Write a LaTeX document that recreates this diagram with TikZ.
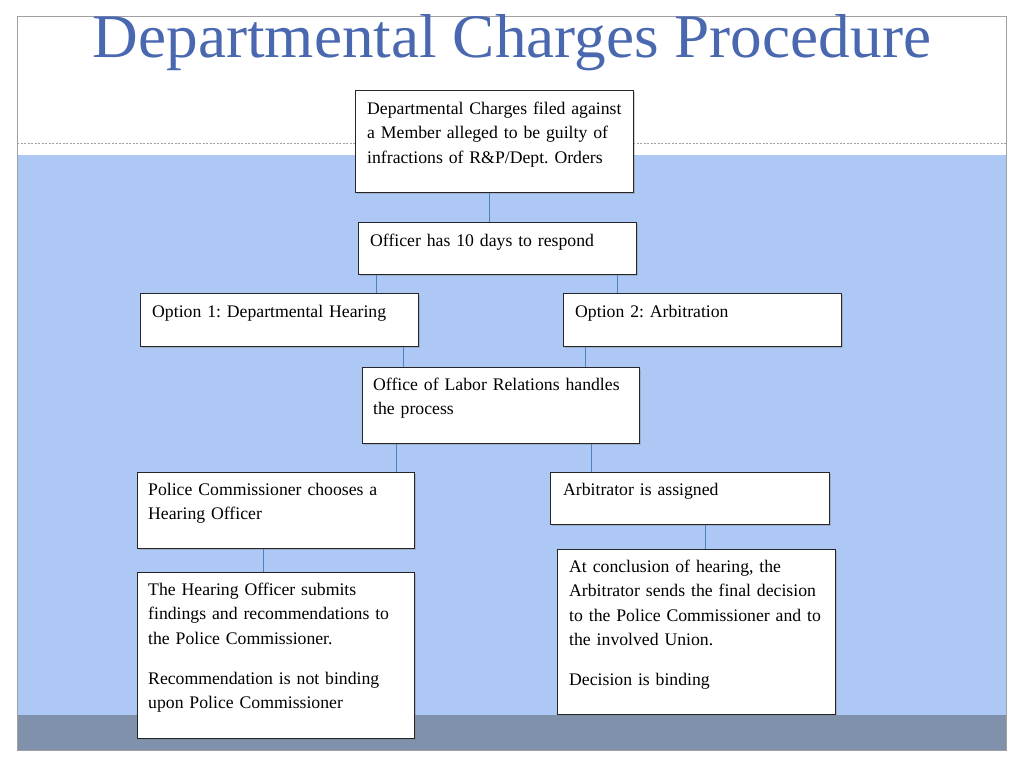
\documentclass[tikz,border=0pt]{standalone}
\usepackage{fontspec}
\setmainfont{Liberation Serif}
\usetikzlibrary{calc,shadows}
\definecolor{bgblue}{HTML}{ADC8F4}
\definecolor{band}{HTML}{7F91AB}
\definecolor{titleblue}{HTML}{4A68B0}
\definecolor{conncol}{HTML}{4F81BD}
\definecolor{framegray}{HTML}{A0A0A0}
\frenchspacing
\tikzset{
  box/.style={draw=black!85, line width=0.9pt, fill=white, inner sep=0pt,
    anchor=north west, drop shadow={shadow xshift=1.2pt, shadow yshift=-1.2pt, opacity=0.35}},
  txt/.style={anchor=base west, inner sep=0pt, align=left, text width=#1,
    font=\fontsize{17.7}{24.5}\selectfont},
  txt/.default=262pt,
  conn/.style={draw=conncol, line width=0.9pt},
}
\begin{document}
\begin{tikzpicture}[x=1pt,y=-1pt]
\useasboundingbox (0,0) rectangle (1024,768);
% background
\fill[white] (0,0) rectangle (1024,768);
\fill[bgblue] (17,155) rectangle (1006,715);
\fill[band] (17,715) rectangle (1006,750);
\draw[framegray, line width=1pt] (17,17) rectangle (1006,750);
\draw[framegray, line width=1pt, dash pattern=on 2pt off 1.5pt] (17,143) -- (1006,143);
% title
\node[anchor=base, inner sep=0pt, text=titleblue, xscale=1.02, font=\fontsize{62}{70}\selectfont] (title) at (512,58) {Departmental Charges Procedure};
% boxes
\node[box, minimum width=278pt, minimum height=102pt] (b1) at (355,90) {};
\node[box, minimum width=278pt, minimum height=52pt] (b2) at (358,222) {};
\node[box, minimum width=278pt, minimum height=53pt] (o1) at (140,293) {};
\node[box, minimum width=278pt, minimum height=53pt] (o2) at (563,293) {};
\node[box, minimum width=277pt, minimum height=76pt] (b5) at (362,367) {};
\node[box, minimum width=277pt, minimum height=76pt] (b6) at (137,472) {};
\node[box, minimum width=279pt, minimum height=52pt] (b7) at (550,472) {};
\node[box, minimum width=277pt, minimum height=166pt] (b8) at (137,572) {};
\node[box, minimum width=278pt, minimum height=165pt] (b9) at (557,549) {};
% texts
\node[txt] (t1) at (367,114) {Departmental Charges filed against\\a Member alleged to be guilty of\\infractions of R\&P/Dept. Orders};
\node[txt] (t2) at (370,246) {Officer has 10 days to respond};
\node[txt] (t3) at (152,317) {Option 1: Departmental Hearing};
\node[txt] (t4) at (575,317) {Option 2: Arbitration};
\node[txt] (t5) at (373,390) {Office of Labor Relations handles\\the process};
\node[txt] (t6) at (148,495) {Police Commissioner chooses a\\Hearing Officer};
\node[txt] (t7) at (563,495) {Arbitrator is assigned};
\node[txt] (t8) at (148,595) {The Hearing Officer submits\\findings and recommendations to\\the Police Commissioner.\\[15.5pt]Recommendation is not binding\\upon Police Commissioner};
\node[txt] (t9) at (569,572) {At conclusion of hearing, the\\Arbitrator sends the final decision\\to the Police Commissioner and to\\the involved Union.\\[15.5pt]Decision is binding};
% connectors
\draw[conn] ($(b1.south west)+(134,0)$) -- ($(b2.north west)+(131,0)$);
\draw[conn] ($(b2.south west)+(18,0)$) -- ($(o1.north west)+(236,0)$);
\draw[conn] ($(b2.south west)+(259,0)$) -- ($(o2.north west)+(54,0)$);
\draw[conn] ($(o1.south west)+(263,0)$) -- ($(b5.north west)+(41,0)$);
\draw[conn] ($(o2.south west)+(22,0)$) -- ($(b5.north west)+(223,0)$);
\draw[conn] ($(b5.south west)+(34,0)$) -- ($(b6.north west)+(259,0)$);
\draw[conn] ($(b5.south west)+(229,0)$) -- ($(b7.north west)+(41,0)$);
\draw[conn] ($(b6.south west)+(126,0)$) -- ($(b8.north west)+(126,0)$);
\draw[conn] ($(b7.south west)+(155,0)$) -- ($(b9.north west)+(148,0)$);
\end{tikzpicture}
\end{document}
